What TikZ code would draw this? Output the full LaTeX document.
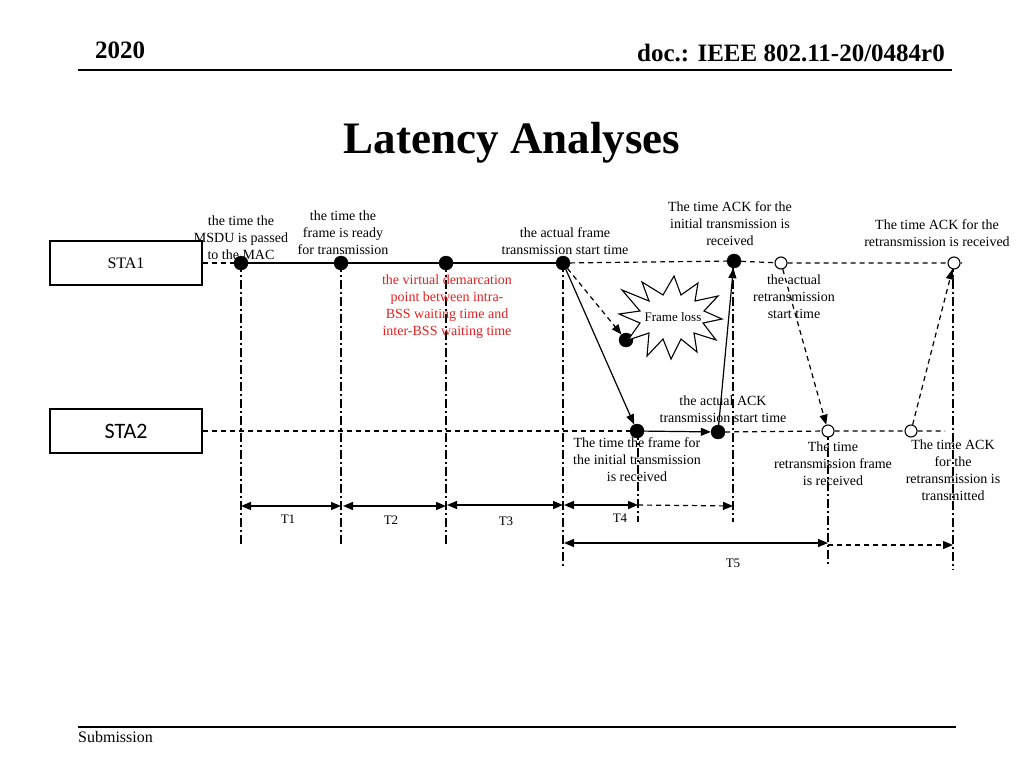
\documentclass[tikz,border=0pt]{standalone}
\usepackage{fontspec}
\setmainfont{Liberation Serif}
\newfontfamily\carlito{Carlito}
\usetikzlibrary{arrows.meta}
\definecolor{redtxt}{RGB}{228,32,32}
\begin{document}
\begin{tikzpicture}[x=1pt,y=-1pt,
  lbl/.style={align=center, font=\fontsize{14}{17}\selectfont, inner sep=0pt},
  tlbl/.style={font=\fontsize{13}{15}\selectfont, inner sep=0pt},
  fdot/.style={circle, fill=black, draw=black, minimum size=14pt, inner sep=0pt},
  odot/.style={circle, draw=black, fill=white, minimum size=12pt, inner sep=0pt, line width=1.1pt},
  stabox/.style={draw=black, line width=1.1pt, minimum width=152pt, minimum height=44pt, inner sep=0pt},
  hdash/.style={line width=1.2pt, dash pattern=on 5pt off 4pt},
  ddot/.style={line width=1.2pt, dash pattern=on 9pt off 3pt on 2pt off 3pt},
  arr/.style={line width=1.2pt, -{Triangle[length=10pt,width=8pt]}},
  darr/.style={line width=1.4pt, {Triangle[length=10pt,width=8pt]}-{Triangle[length=10pt,width=8pt]}},
  dsharr/.style={line width=1.2pt, dash pattern=on 5pt off 4pt, -{Triangle[length=10pt,width=8pt]}},
  rule/.style={line width=1.8pt}
]
\useasboundingbox (0,0) rectangle (1024,768);

% header
\node[anchor=base west, inner sep=0pt, font=\bfseries\fontsize{25}{30}\selectfont] (yr) at (95,59) {2020};
\node[anchor=base east, inner sep=0pt, font=\bfseries\fontsize{25}{30}\selectfont] (doc) at (945,62) {doc.: IEEE 802.11-20/0484r0};
\coordinate (hl) at (78,70); \coordinate (hr) at (952,70);
\draw[rule] (hl) -- (hr);
\node[anchor=base, inner sep=0pt, font=\bfseries\fontsize{45}{50}\selectfont] (title) at (512,153) {Latency Analyses};

% footer
\coordinate (fl) at (78,727); \coordinate (fr) at (956,727);
\draw[rule] (fl) -- (fr);
\node[anchor=base west, inner sep=0pt, font=\fontsize{16}{18}\selectfont] (sub) at (78,742) {Submission};

% station boxes
\node[stabox, font=\fontsize{16}{18}\selectfont] (sta1) at (126,263) {STA1};
\node[stabox, font=\carlito\fontsize{22}{24}\selectfont] (sta2) at (126,431) {STA2};

% bottom coordinates for vertical lines
\coordinate (v1) at (241,545);
\coordinate (v2) at (341,545);
\coordinate (v3) at (446,545);
\coordinate (v4) at (563,566);
\coordinate (v5) at (638,522);
\coordinate (v6) at (733,522);
\coordinate (v6t) at (733,263);
\coordinate (v7) at (828,565);
\coordinate (v8) at (953,570);
\coordinate (v8t) at (953,263);

% vertical dash-dot lines
\draw[ddot] (241,263) -- (v1);
\draw[ddot] (341,263) -- (v2);
\draw[ddot] (446,263) -- (v3);
\draw[ddot] (563,263) -- (v4);
\draw[ddot] (638,431) -- (v5);
\draw[ddot] (v6t) -- (v6);
\draw[ddot] (828,431) -- (v7);
\draw[ddot] (v8t) -- (v8);

% dots
\node[fdot] (a1) at (241,263) {};
\node[fdot] (a2) at (341,263) {};
\node[fdot] (a3) at (446,263) {};
\node[fdot] (a4) at (563,263) {};
\node[fdot] (a5) at (734,261) {};
\node[odot] (c1) at (781,263) {};
\node[odot] (c4) at (954,263) {};
\node[fdot] (b1) at (637,431) {};
\node[fdot] (b2) at (718,432) {};
\node[odot] (c2) at (828,431) {};
\node[odot] (c3) at (911,431) {};
\node[fdot] (lost) at (626,340) {};

% timelines
\coordinate (e1) at (962,263);
\coordinate (e2) at (945,431);
\draw[hdash] (sta1.east) -- (a1);
\draw[line width=1.2pt] (a1) -- (a2) -- (a3) -- (a4);
\draw[hdash] (a4) -- (a5) -- (c1) -- (c4) -- (e1);
\draw[hdash] (sta2.east) -- (b1);
\draw[hdash] (b2) -- (c2) -- (c3) -- (e2);

% frame exchange arrows
\draw[arr] (a4) -- (b1);
\draw[dsharr] (a4) -- (lost);
\draw[arr] (b1) -- (b2);
\draw[arr] (b2) -- (a5);
\draw[dsharr] (c1) -- (c2);
\draw[dsharr] (c3) -- (c4);

% frame loss star
\draw[line width=1.1pt, fill=white]
  (722,319) -- (703,323) -- (716,340) -- (694,333) -- (697,352) -- (681,339) --
  (671,359) -- (663,339) -- (647,356) -- (649,333) -- (628,340) -- (640,323) --
  (619,314) -- (640,311) -- (622,290) -- (649,301) -- (642,282) -- (663,295) --
  (674,276) -- (681,295) -- (698,283) -- (695,301) -- (718,296) -- (704,311) -- cycle;
\node[font=\fontsize{13}{15}\selectfont, inner sep=0pt] (loss) at (673,317) {Frame loss};

% labels
\node[lbl] (l1) at (241,238) {the time the\\MSDU is passed\\to the MAC};
\node[lbl] (l2) at (343,233) {the time the\\frame is ready\\for transmission};
\node[lbl] (l3) at (565,241) {the actual frame\\transmission start time};
\node[lbl] (l4) at (730,224) {The time ACK for the\\initial transmission is\\received};
\node[lbl] (l5) at (937,233.5) {The time ACK for the\\retransmission is received};
\node[lbl, text=redtxt] (l6) at (447,306.5) {the virtual demarcation\\point between intra-\\BSS waiting time and\\inter-BSS waiting time};
\node[lbl] (l7) at (794,297) {the actual\\retransmission\\start time};
\node[lbl] (l8) at (723,409.5) {the actual ACK\\transmission start time};
\node[lbl] (l9) at (637,460) {The time the frame for\\the initial transmission\\is received};
\node[lbl] (l10) at (833,464) {The time\\retransmission frame\\is received};
\node[lbl] (l11) at (953,470.5) {The time ACK\\for the\\retransmission is\\transmitted};

% interval arrows
\coordinate (t1a) at (241,506); \coordinate (t1b) at (341,506);
\coordinate (t2a) at (343,506); \coordinate (t2b) at (446,506);
\coordinate (t3a) at (447,505); \coordinate (t3b) at (563,505);
\coordinate (t4a) at (564,505); \coordinate (t4b) at (638,505);
\coordinate (t4c) at (733,506);
\coordinate (t5a) at (564,543); \coordinate (t5b) at (828,543);
\coordinate (t5c) at (828,545); \coordinate (t5d) at (953,545);
\draw[darr] (t1a) -- (t1b);
\draw[darr] (t2a) -- (t2b);
\draw[darr] (t3a) -- (t3b);
\draw[darr] (t4a) -- (t4b);
\draw[dsharr] (t4b) -- (t4c);
\draw[darr] (t5a) -- (t5b);
\draw[dsharr] (t5c) -- (t5d);
\node[tlbl] (T1) at (288,519) {T1};
\node[tlbl] (T2) at (391,520) {T2};
\node[tlbl] (T3) at (506,521) {T3};
\node[tlbl] (T4) at (620,518) {T4};
\node[tlbl] (T5) at (733,563) {T5};
\end{tikzpicture}
\end{document}
